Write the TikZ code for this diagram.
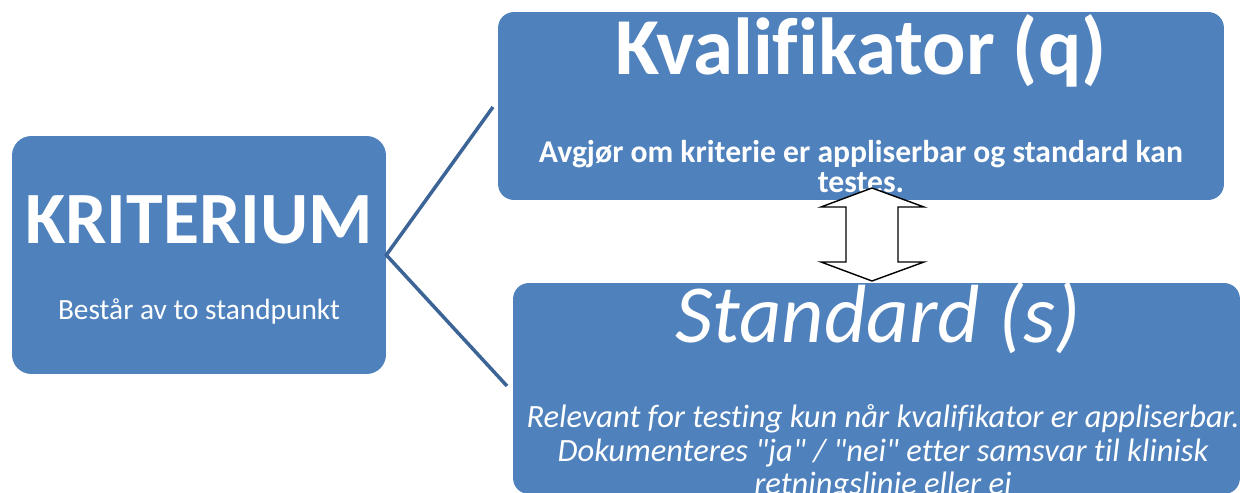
\documentclass[tikz,border=0pt]{standalone}
\usepackage{fontspec}
\setmainfont{Carlito}[Ligatures={TeXOff,NoCommon}]
\usetikzlibrary{positioning}
\definecolor{boxblue}{HTML}{4F81BD}
\definecolor{linkblue}{HTML}{3C6496}
\tikzset{
  box/.style={fill=boxblue, draw=none, inner sep=0pt, rounded corners=#1},
  box/.default=9pt,
  boxtext/.style={text=white, inner sep=0pt, anchor=base, align=center},
  link/.style={draw=linkblue, line width=2pt},
}
\begin{document}
\begin{tikzpicture}[x=0.02cm, y=-0.02cm]
	%%%%% START %%%%%
	\useasboundingbox (0,0) rectangle (1242,493);
	\clip (0,0) rectangle (1242,493);
	
	% boxes
	\node[box=11pt, minimum width=7.48cm, minimum height=4.76cm] (krit) at (199,255) {};
	\node[box, minimum width=14.52cm, minimum height=3.76cm] (qual) at (861,106) {};
	\node[box, minimum width=14.54cm, minimum height=4.22cm] (stand) at (876.5,388.5) {};
	
	% texts (base of multi-line nodes = last line)
	\node[boxtext, font=\bfseries\fontsize{42}{50}\selectfont] (kritT) at (199,244) {KRITERIUM};
	\node[boxtext, font=\fontsize{16.7}{20}\selectfont] (kritS) at (199,320) {Består av to standpunkt};
	
	\node[boxtext, font=\bfseries\fontsize{46}{55}\selectfont] (qualT) at (861,75) {Kvalifikator (q)};
	\node[boxtext, font=\bfseries\fontsize{18}{17.6}\selectfont] (qualS) at (861,193)
		{Avgjør om kriterie er appliserbar og standard kan\\testes.};
	
	\node[boxtext, font=\itshape\fontsize{47}{56}\selectfont] (standT) at (878,343) {Standard (s)};
	\node[boxtext, font=\itshape\fontsize{18.5}{19.3}\selectfont] (standS) at (883,495)
		{Relevant for testing kun når kvalifikator er appliserbar.\\
		 Dokumenteres "ja" / "nei" etter samsvar til klinisk\\
		 retningslinje eller ei};
	
	% connectors
	\coordinate (qualIn) at (493,107);
	\coordinate (standIn) at (507,386);
	\draw[link] (qualIn) -- (krit.east) -- (standIn);
	
	% double arrow
	\draw[fill=white, line width=0.8pt, line join=miter] (872,188) -- (924,207) -- (898,207) -- (898,262)
		-- (924,262) -- (872,281) -- (821,262) -- (846,262) -- (846,207) -- (821,207) -- cycle;
	
	%%%%% END %%%%%
\end{tikzpicture}
\end{document}
